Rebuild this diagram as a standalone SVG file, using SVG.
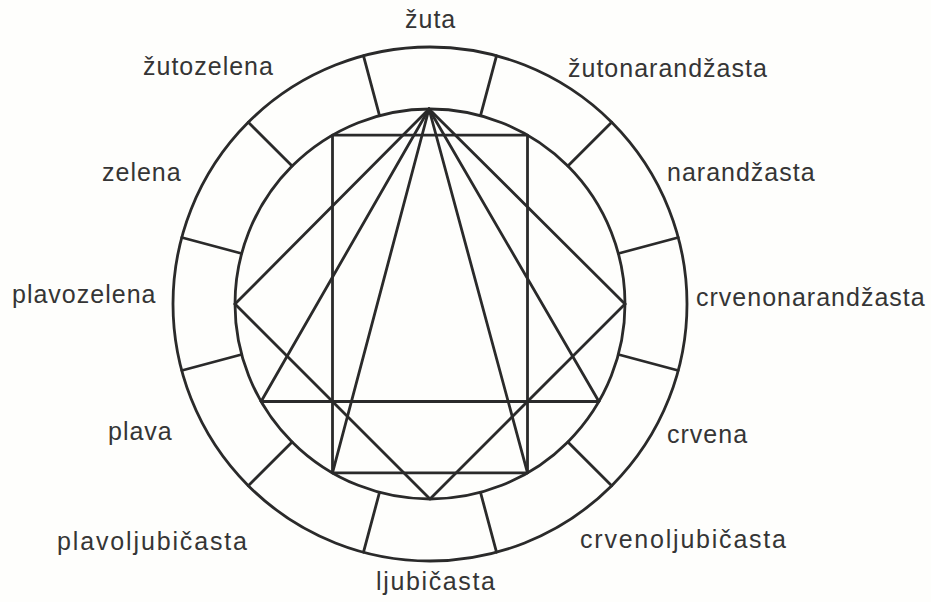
<svg xmlns="http://www.w3.org/2000/svg" width="931" height="602" viewBox="0 0 931 602">
<style>
.ln{fill:none;stroke:#2a2a2a;stroke-width:2.8;stroke-linejoin:round;stroke-linecap:round}
.lb{font-family:"Liberation Sans",Arial,sans-serif;font-size:25px;fill:#353535;letter-spacing:1px}
.fit{letter-spacing:0}
</style>
<rect width="931" height="602" fill="#fefefc"/>
<g id="wheel">
<circle class="ln" cx="430" cy="304" r="257"/>
<circle class="ln" cx="430" cy="304" r="195"/>
</g>
<g id="dividers" class="ln">
<line x1="480.5" y1="115.6" x2="496.5" y2="55.8"/>
<line x1="567.9" y1="166.1" x2="611.7" y2="122.3"/>
<line x1="618.4" y1="253.5" x2="678.2" y2="237.5"/>
<line x1="618.4" y1="354.5" x2="678.2" y2="370.5"/>
<line x1="567.9" y1="441.9" x2="611.7" y2="485.7"/>
<line x1="480.5" y1="492.4" x2="496.5" y2="552.2"/>
<line x1="379.5" y1="492.4" x2="363.5" y2="552.2"/>
<line x1="292.1" y1="441.9" x2="248.3" y2="485.7"/>
<line x1="241.6" y1="354.5" x2="181.8" y2="370.5"/>
<line x1="241.6" y1="253.5" x2="181.8" y2="237.5"/>
<line x1="292.1" y1="166.1" x2="248.3" y2="122.3"/>
<line x1="379.5" y1="115.6" x2="363.5" y2="55.8"/>
</g>
<g id="connectors" class="ln">
<line x1="429" y1="109" x2="625" y2="304"/>
<line x1="429" y1="109" x2="598.9" y2="401.5"/>
<line x1="429" y1="109" x2="527.5" y2="472.9"/>
<line x1="429" y1="109" x2="332.5" y2="472.9"/>
<line x1="429" y1="109" x2="261.1" y2="401.5"/>
<line x1="429" y1="109" x2="235" y2="304"/>
<polyline points="235,304 430,499 625,304"/>
<line x1="261.1" y1="401.5" x2="598.9" y2="401.5"/>
<polygon points="332.5,135.1 527.5,135.1 527.5,472.9 332.5,472.9"/>
</g>
<g id="labels">
<text class="lb" x="405" y="28">žuta</text>
<text class="lb" x="143" y="75">žutozelena</text>
<text class="lb" x="568" y="77">žutonarandžasta</text>
<text class="lb" x="102" y="181">zelena</text>
<text class="lb" x="667" y="181">narandžasta</text>
<text class="lb" x="12" y="303">plavozelena</text>
<text class="lb" x="696" y="306">crvenonarandžasta</text>
<text class="lb" x="108" y="440">plava</text>
<text class="lb" x="667" y="443">crvena</text>
<text class="lb fit" x="57" y="550" textLength="190" lengthAdjust="spacing">plavoljubičasta</text>
<text class="lb fit" x="580" y="548" textLength="206" lengthAdjust="spacing">crvenoljubičasta</text>
<text class="lb fit" x="376" y="590" textLength="119" lengthAdjust="spacing">ljubičasta</text>
</g>
</svg>
